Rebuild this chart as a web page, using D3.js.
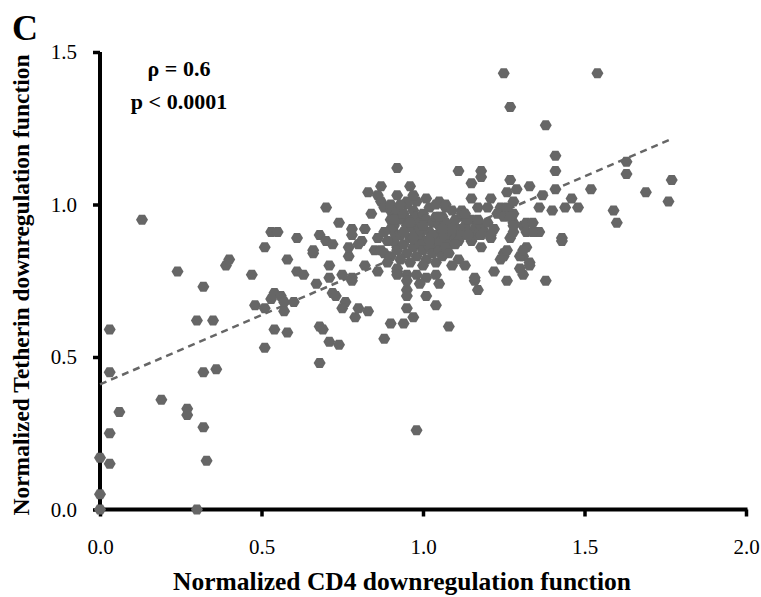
<!DOCTYPE html>
<html>
<head>
<meta charset="utf-8">
<script src="https://cdn.jsdelivr.net/npm/d3@7"></script>
<style>
  html, body { margin: 0; padding: 0; background: #fff; }
  svg { display: block; }
  text { font-family: "Liberation Serif", "Times New Roman", serif; }
</style>
</head>
<body>
<svg id="chart" width="761" height="597"></svg>
<script>
// ---- data ----
const xTicks = [0, 0.5, 1.0, 1.5, 2.0];
const yTicks = [0, 0.5, 1.0, 1.5];
const trendX = [0, 1.77];
const trendY = [0.41, 1.215];
const statLabels = ["ρ = 0.6", "p < 0.0001"];
const panelLabel = "C";
const xTitle = "Normalized CD4 downregulation function";
const yTitle = "Normalized Tetherin downregulation function";

const cd4 = [
  0.03,0.03,0.06,0.03,0.00,0.03,0.00,0.00,0.30,
  0.19,0.27,0.27,0.32,0.33,0.32,0.36,0.30,0.35,0.32,0.24,0.39,0.40,0.13,
  0.47,0.51,0.48,0.51,0.54,0.56,0.57,0.57,0.60,0.54,0.58,0.58,0.61,0.63,0.67,0.71,0.71,0.66,0.68,0.69,0.68,0.71,0.74,0.72,0.73,0.75,0.76,0.75,0.78,0.79,0.80,0.83,0.77,0.82,0.86,0.88,0.90,0.94,0.92,0.53,
  0.51,0.53,0.55,0.61,0.68,0.70,0.66,0.70,0.72,0.74,0.78,0.78,0.82,0.77,0.81,0.80,0.84,0.83,0.87,0.92,0.86,0.87,0.88,0.90,0.91,0.90,0.91,0.86,0.85,0.87,0.88,0.90,0.89,0.92,0.92,0.91,0.92,0.78,0.92,0.95,0.96,
  0.92,0.95,0.98,1.01,1.04,1.05,0.99,0.95,0.95,0.95,1.01,1.04,0.95,0.97,0.98,1.08,1.16,1.17,1.22,1.26,1.31,1.38,
  1.25,1.54,1.27,1.38,1.41,1.41,1.41,1.37,1.46,1.48,1.44,1.40,1.36,1.52,1.63,1.63,1.69,1.77,1.76,1.59,1.60,1.43,1.43,
  1.11,1.18,1.18,1.15,1.27,1.29,1.26,1.33,1.15,1.21,1.17,1.20,1.24,1.26,1.28,1.23,1.25,1.28,1.31,1.32,1.32,1.35,1.27,1.25,1.24,1.32,1.31,1.33,1.30,1.16,1.11,1.13,1.18,1.12,1.12,1.10,1.11,1.05,1.07,1.28,1.27,1.28,1.28,1.34,1.36,1.34,
  1.25,1.26,1.30,1.31,1.33,
  0.90,0.92,0.93,0.94,0.95,0.96,0.97,0.97,0.98,0.99,0.99,1.00,1.00,1.01,1.01,1.02,1.02,1.03,1.03,1.04,1.04,1.05,1.05,1.06,1.06,1.07,1.08,1.08,1.09,1.10,1.10,1.11,1.12,1.13,1.14,1.15,1.15,1.16,1.17,1.18,1.19,1.20,1.21,1.22,
  0.91,0.92,0.93,0.94,0.95,0.96,0.97,0.98,0.99,1.00,1.01,1.02,1.03,1.04,1.05,1.06,1.07,1.08,1.09,1.00,0.96,0.93,
  0.95,0.98,1.01,1.04,1.07,1.09,1.12,0.93,0.97,
  0.90,0.91,0.89,0.88,
  0.94,0.99,1.03,1.07,1.11,1.14,0.97,1.02,1.06,1.10,1.14,1.18,0.96,1.00,1.05,1.09,1.13,1.17,1.21
];
const tetherin = [
  0.59,0.45,0.32,0.25,0.17,0.15,0.05,0.00,0.00,
  0.36,0.33,0.31,0.27,0.16,0.45,0.46,0.62,0.62,0.73,0.78,0.80,0.82,0.95,
  0.77,0.53,0.67,0.66,0.71,0.70,0.68,0.65,0.68,0.59,0.58,0.82,0.78,0.77,0.74,0.80,0.76,0.84,0.60,0.59,0.48,0.55,0.54,0.71,0.70,0.77,0.68,0.66,0.75,0.63,0.66,0.65,0.83,0.80,0.78,0.56,0.61,0.61,0.78,0.69,
  0.86,0.91,0.91,0.89,0.90,0.88,0.85,0.99,0.87,0.94,0.92,0.90,0.92,0.86,0.88,0.87,0.97,1.04,1.06,1.12,1.03,1.01,0.99,0.98,0.96,0.95,0.93,0.89,0.85,0.85,0.84,0.83,0.81,0.86,0.90,0.91,0.79,0.76,1.03,1.00,1.06,
  0.77,0.77,0.77,0.76,0.77,0.74,0.74,0.75,0.72,0.70,0.70,0.67,0.66,0.63,0.26,0.60,0.75,0.72,0.78,0.75,0.77,0.75,
  1.43,1.43,1.32,1.26,1.16,1.11,1.05,1.03,1.02,0.99,0.99,0.98,0.99,1.05,1.14,1.10,1.04,1.08,1.01,0.98,0.94,0.89,0.88,
  1.11,1.11,1.09,1.07,1.08,1.05,1.04,1.06,1.02,1.02,0.99,0.99,0.99,0.99,1.01,0.97,0.96,0.94,0.93,0.94,0.91,0.91,0.89,0.84,0.82,0.86,0.83,0.81,0.79,0.76,0.82,0.80,0.86,0.98,0.96,0.92,0.89,1.01,0.99,0.97,0.96,0.93,0.91,0.94,0.91,0.91,
  0.83,0.85,0.83,0.85,0.80,
  1.00,0.98,0.95,0.97,0.93,0.95,0.98,0.92,0.96,0.94,0.90,0.97,0.92,0.88,0.95,0.99,0.91,0.94,0.87,0.96,0.90,0.93,0.88,0.91,0.96,0.89,0.93,0.87,0.91,0.95,0.89,0.92,0.90,0.93,0.91,0.88,0.95,0.92,0.90,0.93,0.91,0.94,0.89,0.92,
  0.88,0.85,0.90,0.87,0.84,0.89,0.86,0.83,0.87,0.85,0.82,0.86,0.84,0.81,0.85,0.83,0.86,0.84,0.80,0.80,0.81,0.82,
  1.01,1.01,1.02,1.00,1.00,0.98,0.97,1.00,1.03,
  0.92,0.95,0.88,0.91,
  0.91,0.92,0.90,0.94,0.88,0.90,0.89,0.88,0.92,0.87,0.95,0.90,0.94,0.93,0.96,0.92,0.97,0.95,0.90
];

// ---- drawing ----
const svg = d3.select("#chart");
const x = d3.scaleLinear().domain([0, 2]).range([100, 746]);
const y = d3.scaleLinear().domain([0, 1.5]).range([509.5, 52]);
const grey = "#666666";

// axes (ticks/labels from d3 axes, heavy axis lines drawn on top)
const yAxis = d3.axisLeft(y).tickValues(yTicks).tickFormat(d3.format(".1f")).tickSize(7).tickSizeOuter(0).tickPadding(16);
const xAxis = d3.axisBottom(x).tickValues(xTicks).tickFormat(d3.format(".1f")).tickSize(7).tickSizeOuter(0).tickPadding(23);

const gy = svg.append("g").attr("transform", "translate(100,0)").call(yAxis);
const gx = svg.append("g").attr("transform", "translate(0,509.5)").call(xAxis);
[gx, gy].forEach(g => {
  g.select(".domain").remove();
  g.selectAll(".tick line").attr("stroke", "#000").attr("stroke-width", 3.5);
  g.selectAll(".tick text").attr("fill", "#000").style("font-size", "21px")
    .style("font-family", '"Liberation Serif", serif');
});
svg.append("rect").attr("x", x(0) - 2).attr("y", y(1.5)).attr("width", 4).attr("height", y(0) - y(1.5) + 2).attr("fill", "#000");
svg.append("rect").attr("x", x(0) - 2).attr("y", y(0) - 2).attr("width", x(2) - x(0) + 3.5).attr("height", 4).attr("fill", "#000");

// trend line
svg.append("line")
  .attr("x1", x(trendX[0])).attr("y1", y(trendY[0]))
  .attr("x2", x(trendX[1])).attr("y2", y(trendY[1]))
  .attr("stroke", grey).attr("stroke-width", 2.5).attr("stroke-dasharray", "7,5");

// hexagon markers (flat top/bottom)
const r = 6, hh = 5;
const hex = `M${-r},0L${-r/2},${-hh}L${r/2},${-hh}L${r},0L${r/2},${hh}L${-r/2},${hh}Z`;
const pts = cd4.map((v, i) => ({ cx: v, cy: tetherin[i] }));
svg.append("g").selectAll("path").data(pts).join("path")
  .attr("d", hex)
  .attr("transform", d => `translate(${x(d.cx)},${y(d.cy)})`)
  .attr("fill", grey);

// annotations
svg.append("text").attr("x", 12).attr("y", 40).text(panelLabel)
  .style("font-size", "36px").style("font-weight", "bold").attr("fill", "#000");
svg.append("text").attr("x", 179).attr("y", 76).attr("text-anchor", "middle").text(statLabels[0])
  .style("font-size", "22px").style("font-weight", "bold").attr("fill", "#000");
svg.append("text").attr("x", 179).attr("y", 109).attr("text-anchor", "middle").text(statLabels[1])
  .style("font-size", "22px").style("font-weight", "bold").attr("fill", "#000");

// axis titles
svg.append("text").attr("x", 402).attr("y", 590).attr("text-anchor", "middle").text(xTitle)
  .style("font-size", "25.5px").style("font-weight", "bold").attr("fill", "#000");
svg.append("text").attr("transform", "translate(29,285) rotate(-90)").attr("text-anchor", "middle").text(yTitle)
  .style("font-size", "23.5px").style("font-weight", "bold").attr("fill", "#000");
</script>
</body>
</html>
